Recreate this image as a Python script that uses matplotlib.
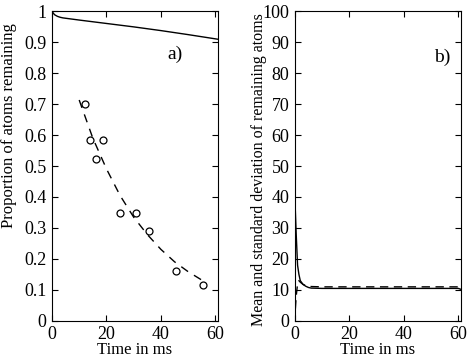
import matplotlib
matplotlib.use('Agg')
import matplotlib.pyplot as plt

plt.rcParams['font.family'] = ['Liberation Serif', 'DejaVu Serif']
plt.rcParams['font.size'] = 12

# panel a: proportion of atoms remaining
sim_t = [0, 0.5, 1, 2, 3, 4, 10, 20, 30, 40, 50, 61]
sim_frac = [1.0, 0.993, 0.988, 0.983, 0.980, 0.978, 0.971, 0.960, 0.949, 0.937, 0.924, 0.909]

fit_t = [10, 15, 20, 25, 30, 35, 40, 45, 50, 55]
fit_frac = [0.713, 0.590, 0.491, 0.405, 0.335, 0.279, 0.231, 0.191, 0.159, 0.132]

exp_t = [12.0, 13.8, 16.0, 18.9, 24.9, 30.7, 35.8, 45.7, 55.6]
exp_frac = [0.70, 0.583, 0.523, 0.583, 0.349, 0.349, 0.29, 0.161, 0.115]

# panel b: mean and standard deviation of remaining atoms
mean_t = [0, 0.5, 1, 1.5, 2, 3, 4, 5, 6, 10, 20, 40, 60, 61]
mean_n = [40, 28, 18, 15, 13, 11.8, 11.2, 10.8, 10.6, 10.5, 10.5, 10.5, 10.5, 10.2]

std_t = [0.2, 0.5, 1, 1.5, 2, 3, 4, 6, 10, 61]
std_n = [4, 8, 12, 13, 12.5, 11.8, 11.4, 11.1, 11.0, 11.0]

fig = plt.figure(figsize=(4.68, 3.57), dpi=100)
ax1 = fig.add_axes([0.111, 0.101, 0.355, 0.868])
ax2 = fig.add_axes([0.630, 0.101, 0.355, 0.868])

ax1.plot(sim_t, sim_frac, color='black', lw=1)
ax1.plot(fit_t, fit_frac, color='black', lw=1, dashes=(6, 5))
ax1.plot(exp_t, exp_frac, 'o', mfc='none', mec='black', ms=5, mew=0.9)
ax1.set_xlim(0, 61)
ax1.set_ylim(0, 1)
ax1.set_xticks([0, 20, 40, 60])
ax1.set_yticks([0, 0.1, 0.2, 0.3, 0.4, 0.5, 0.6, 0.7, 0.8, 0.9, 1])
ax1.set_yticklabels(['0', '0.1', '0.2', '0.3', '0.4', '0.5', '0.6', '0.7', '0.8', '0.9', '1'])
ax1.set_xlabel('Time in ms', labelpad=-1)
ax1.set_ylabel('Proportion of atoms remaining')
ax1.yaxis.set_label_coords(-0.21, 0.63)
ax1.text(45, 0.86, 'a)', ha='center', va='center', fontsize=14)

ax2.plot(mean_t, mean_n, color='black', lw=1)
ax2.plot(std_t, std_n, color='black', lw=1, dashes=(6, 4))
ax2.set_xlim(0, 61)
ax2.set_ylim(0, 100)
ax2.set_xticks([0, 20, 40, 60])
ax2.set_yticks(range(0, 101, 10))
ax2.set_xlabel('Time in ms', labelpad=-1)
ax2.set_ylabel('Mean and standard deviation of remaining atoms', fontsize=11.5)
ax2.yaxis.set_label_coords(-0.167, 0.49)
ax2.text(54, 85, 'b)', ha='center', va='center', fontsize=14)

for ax in (ax1, ax2):
    ax.tick_params(direction='in', top=True, right=True, length=4, width=0.8,
                   pad=4, labelsize=13)
    for s in ax.spines.values():
        s.set_linewidth(0.8)

fig.savefig('out.png', dpi=100)
